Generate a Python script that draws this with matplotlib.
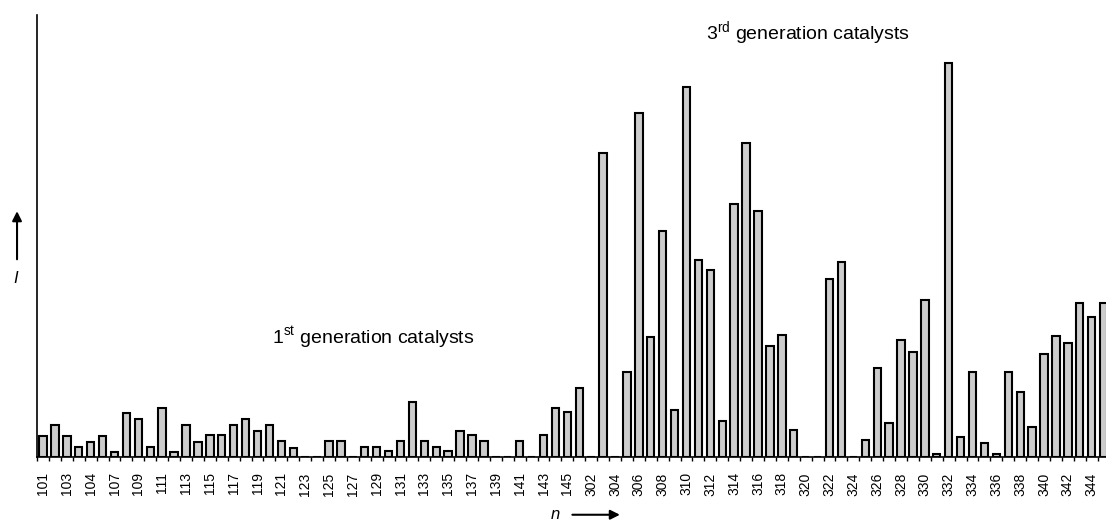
import matplotlib
matplotlib.use("Agg")
import matplotlib.pyplot as plt
import numpy as np

plt.rcParams['font.family'] = ['Liberation Sans', 'DejaVu Sans']
plt.rcParams['mathtext.fontset'] = 'custom'
plt.rcParams['mathtext.rm'] = 'Liberation Sans'

# catalyst numbers (every other one is labelled on the axis)
first_gen = ["101", "102", "103", "103a", "104", "105", "107", "108", "109", "110",
             "111", "112", "113", "114", "115", "116", "117", "118", "119", "120",
             "121", "122", "123", "124", "125", "126", "127", "128", "129", "130",
             "131", "132", "133", "134", "135", "136", "137", "138", "139", "140",
             "141", "142", "143", "144", "145", "146"]
third_gen = [str(n) for n in range(302, 346)]
catalysts = first_gen + third_gen

# intensity I (arbitrary units)
first_vals = [21, 32, 21, 10, 15, 21, 5, 44, 38, 10,
              49, 5, 32, 15, 22, 22, 32, 38, 26, 32,
              16, 9, 0, 0, 16, 16, 0, 10, 10, 6,
              16, 55, 16, 10, 6, 26, 22, 16, 0, 0,
              16, 0, 22, 49, 45, 69]
third_vals = [0, 304, 0, 85, 344, 120, 226, 47, 370, 197,
              187, 36, 253, 314, 246, 111, 122, 27, 0, 0,
              178, 195, 0, 17, 89, 34, 117, 105, 157, 3,
              394, 20, 85, 14, 3, 85, 65, 30, 103, 121,
              114, 154, 140, 154]
intensity = first_vals + third_vals

fig = plt.figure(figsize=(11.06, 5.21), dpi=100)
ax = fig.add_axes([0.0335, 0.1228, 0.9665, 0.848])

x = np.arange(len(catalysts))
ax.bar(x, intensity, width=0.62, color='#cccccc', edgecolor='black', linewidth=1.5)

ax.set_xlim(-0.42, 89.2)
ax.set_ylim(0, 442)

# labels on every other bar, small tick marks between bars
ax.set_xticks(x[::2])
ax.set_xticklabels(catalysts[::2], rotation=90, fontsize=10)
ax.tick_params(axis='x', which='major', length=0, pad=11)
ax.set_xticks(x - 0.5, minor=True)
ax.tick_params(axis='x', which='minor', length=3, width=1, direction='out')
ax.set_yticks([])

for s in ['top', 'right']:
    ax.spines[s].set_visible(False)
ax.spines['left'].set_linewidth(1.2)
ax.spines['bottom'].set_linewidth(1.2)

ax.text(27.7, 119, r"1$^{\mathrm{st}}$ generation catalysts", ha='center', va='center', fontsize=14)
ax.text(64.2, 424, r"3$^{\mathrm{rd}}$ generation catalysts", ha='center', va='center', fontsize=14)

# axis labels with arrows
fig.text(0.0145, 0.466, "I", style='italic', fontsize=12, ha='center', va='center')
fig.patches.append(matplotlib.patches.FancyArrowPatch(
    (0.0154, 0.497), (0.0154, 0.60), transform=fig.transFigure,
    arrowstyle='-|>', mutation_scale=14, color='black', linewidth=1.5))
fig.text(0.502, 0.012, "n", style='italic', fontsize=12, ha='center', va='center')
fig.patches.append(matplotlib.patches.FancyArrowPatch(
    (0.515, 0.012), (0.563, 0.012), transform=fig.transFigure,
    arrowstyle='-|>', mutation_scale=14, color='black', linewidth=1.5))

fig.savefig("out.png", dpi=100)
